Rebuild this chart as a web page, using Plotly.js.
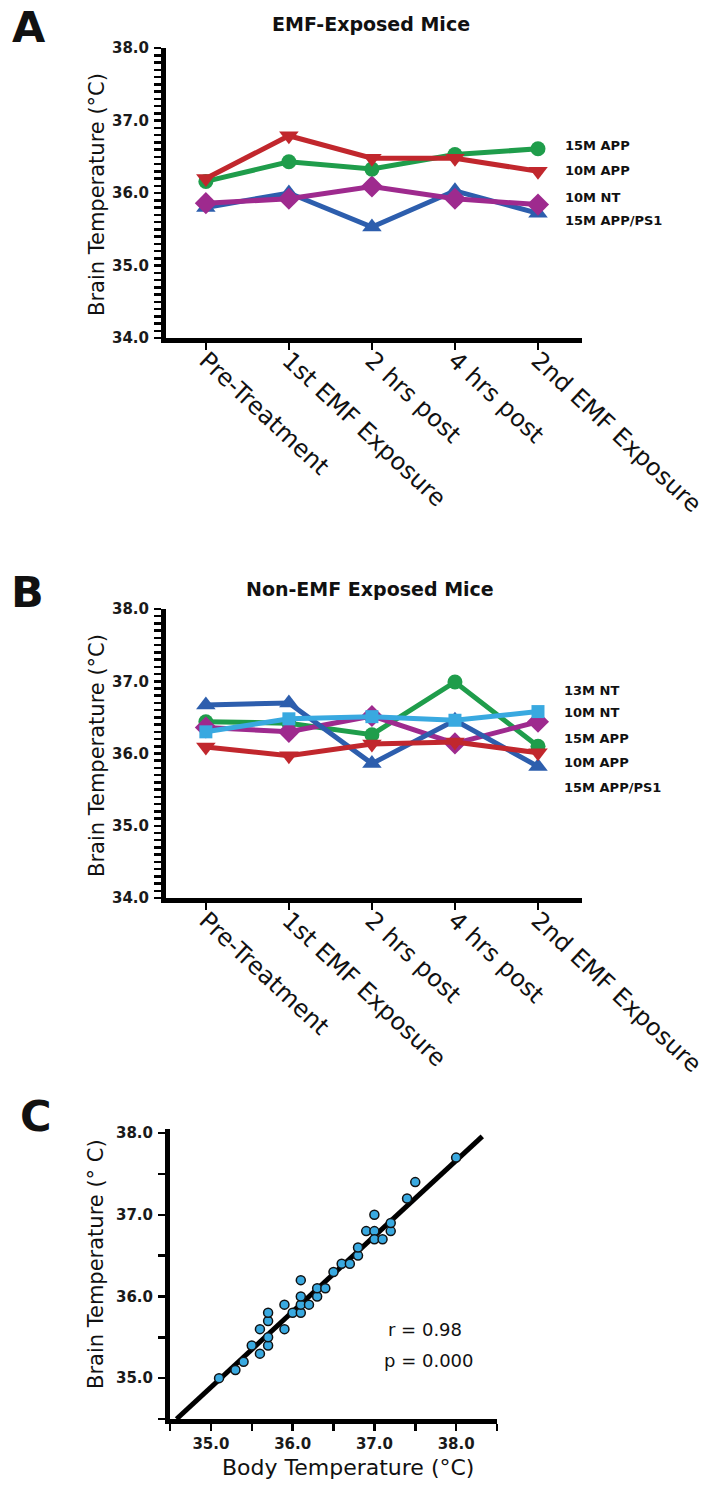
<!DOCTYPE html>
<html>
<head>
<meta charset="utf-8">
<script src="https://cdn.plot.ly/plotly-3.0.1.min.js"></script>
<style>html,body{margin:0;padding:0;background:#fff;}#chart{width:709px;height:1485px;}</style>
</head>
<body>
<div id="chart"></div>
<script>
// ---------- DATA ----------
var categories = ['Pre-Treatment', '1st EMF Exposure', '2 hrs post', '4 hrs post', '2nd EMF Exposure'];

// Panel A: EMF-Exposed Mice
var a15mAPP    = [36.16, 36.43, 36.33, 36.53, 36.61];
var a10mAPP    = [36.20, 36.79, 36.48, 36.48, 36.30];
var a10mNT     = [35.86, 35.92, 36.09, 35.92, 35.84];
var a15mAPPPS1 = [35.80, 36.00, 35.53, 36.03, 35.72];
var aLabels = ['15M APP', '10M APP', '10M NT', '15M APP/PS1'];

// Panel B: Non-EMF Exposed Mice
var b13mNT     = [36.30, 36.48, 36.51, 36.46, 36.58];
var b10mNT     = [36.36, 36.30, 36.52, 36.14, 36.44];
var b15mAPP    = [36.44, 36.42, 36.26, 36.99, 36.10];
var b10mAPP    = [36.09, 35.97, 36.13, 36.16, 36.01];
var b15mAPPPS1 = [36.67, 36.70, 35.86, 36.46, 35.82];
var bLabels = ['13M NT', '10M NT', '15M APP', '10M APP', '15M APP/PS1'];

// Panel C: brain vs body temperature
var bodyTemp  = [35.1,35.3,35.4,35.5,35.6,35.6,35.7,35.7,35.7,35.7,35.9,35.9,36.0,36.1,36.1,36.1,36.1,36.2,36.3,36.3,36.4,36.5,36.6,36.7,36.8,36.8,36.9,37.0,37.0,37.0,37.1,37.2,37.2,37.4,37.5,38.0];
var brainTemp = [35.0,35.1,35.2,35.4,35.3,35.6,35.4,35.5,35.7,35.8,35.6,35.9,35.8,35.8,35.9,36.0,36.2,35.9,36.0,36.1,36.1,36.3,36.4,36.4,36.5,36.6,36.8,36.8,36.7,37.0,36.7,36.8,36.9,37.2,37.4,37.7];
var fitX = [34.58, 38.32];
var fitY = [34.50, 37.96];
var statsText = ['r = 0.98', 'p = 0.000'];

var tempTicks = [34, 35, 36, 37, 38];
var tempTickText = ['34.0', '35.0', '36.0', '37.0', '38.0'];
var cTicks = [35, 36, 37, 38];
var cTickText = ['35.0', '36.0', '37.0', '38.0'];

// ---------- STYLE ----------
var W = 709, H = 1485;
var FONT = 'DejaVu Sans';
var RED = '#C1272D', GREEN = '#1F9D4B', MAG = '#9E2A8E', BLUE = '#2D5EAD', LBLUE = '#39A9E0';

function px(x) { return x / W; }
function py(y) { return 1 - y / H; }

function series(xa, ya, y, color, symbol, size) {
  return {
    type: 'scatter', mode: 'lines+markers', x: categories, y: y,
    xaxis: xa, yaxis: ya, cliponaxis: false,
    line: {color: color, width: 5},
    marker: {color: color, symbol: symbol, size: size, line: {width: 0}},
    hoverinfo: 'skip'
  };
}

var traces = [
  series('x', 'y', a15mAPPPS1, BLUE, 'triangle-up', 17),
  series('x', 'y', a10mNT, MAG, 'diamond', 17),
  series('x', 'y', a15mAPP, GREEN, 'circle', 15),
  series('x', 'y', a10mAPP, RED, 'triangle-down', 17),

  series('x2', 'y2', b15mAPP, GREEN, 'circle', 15),
  series('x2', 'y2', b10mNT, MAG, 'diamond', 17),
  series('x2', 'y2', b15mAPPPS1, BLUE, 'triangle-up', 17),
  series('x2', 'y2', b13mNT, LBLUE, 'square', 13),
  series('x2', 'y2', b10mAPP, RED, 'triangle-down', 17),

  {type: 'scatter', mode: 'lines', x: fitX, y: fitY, xaxis: 'x3', yaxis: 'y3',
   line: {color: '#000', width: 5}, hoverinfo: 'skip'},
  {type: 'scatter', mode: 'markers', x: bodyTemp, y: brainTemp, xaxis: 'x3', yaxis: 'y3',
   marker: {color: LBLUE, size: 9, line: {color: '#111', width: 1.5}}, hoverinfo: 'skip', cliponaxis: false}
];

var tickFont = {family: FONT, size: 15, color: '#1a1a1a', weight: 'bold'};
function baseAxis(extra) {
  var o = {showline: true, linewidth: 5, linecolor: '#000', ticks: 'outside', ticklen: 7,
    tickwidth: 2.5, tickcolor: '#000', showgrid: false, zeroline: false, fixedrange: true,
    tickfont: tickFont};
  for (var k in extra) o[k] = extra[k];
  return o;
}

var catAxis = {type: 'category', range: [-0.48, 4.53], tickangle: 43, ticklabelstandoff: -13,
  tickfont: {family: FONT, size: 24, color: '#111'}};
var tempAxis = {range: [34, 38], tickvals: tempTicks, ticktext: tempTickText, ticklabelstandoff: 2,
  minor: {dtick: 0.1, ticks: 'outside', ticklen: 7, tickwidth: 2.5, tickcolor: '#000'}};

var layout = {
  width: W, height: H, margin: {l: 0, r: 0, t: 0, b: 0},
  paper_bgcolor: '#fff', plot_bgcolor: '#fff', showlegend: false,
  font: {family: FONT, color: '#111'},
  xaxis: baseAxis(Object.assign({domain: [px(166), px(582)], anchor: 'y'}, catAxis)),
  yaxis: baseAxis(Object.assign({domain: [py(338), py(48)], anchor: 'x'}, tempAxis)),
  xaxis2: baseAxis(Object.assign({domain: [px(166), px(582)], anchor: 'y2'}, catAxis)),
  yaxis2: baseAxis(Object.assign({domain: [py(898), py(609)], anchor: 'x2'}, tempAxis)),
  xaxis3: baseAxis({domain: [px(170), px(497)], anchor: 'y3', range: [34.5, 38.5],
    tickvals: cTicks, ticktext: cTickText,
    minor: {dtick: 0.5, ticks: 'outside', ticklen: 7, tickwidth: 2.5, tickcolor: '#000'}}),
  yaxis3: baseAxis({domain: [py(1419), py(1129)], anchor: 'x3', range: [34.5, 38.05],
    tickvals: cTicks, ticktext: cTickText, ticklabelstandoff: 2,
    minor: {dtick: 0.5, ticks: 'outside', ticklen: 7, tickwidth: 2.5, tickcolor: '#000'}}),
  annotations: []
};

function note(text, x, y, size, bold, opts) {
  var a = {text: text, xref: 'paper', yref: 'paper', x: px(x), y: py(y), showarrow: false,
    xanchor: 'center', yanchor: 'middle',
    font: {family: FONT, size: size, color: '#111', weight: bold ? 'bold' : 'normal'}};
  for (var k in (opts || {})) a[k] = opts[k];
  layout.annotations.push(a);
}

// panel letters and titles
note('A', 10, 27, 43, true, {xanchor: 'left'});
note('B', 9, 592, 43, true, {xanchor: 'left'});
note('C', 18, 1116, 43, true, {xanchor: 'left'});
note('EMF-Exposed Mice', 371, 24, 19, true);
note('Non-EMF Exposed Mice', 370, 589, 19, true);

// y-axis titles
note('Brain Temperature (°C)', 97, 195, 21, false, {textangle: -90});
note('Brain Temperature (°C)', 97, 756, 21, false, {textangle: -90});
note('Brain Temperature (° C)', 96, 1264, 21, false, {textangle: -90});
note('Body Temperature (°C)', 348, 1467, 22, false);

// series labels at right
var aLabelY = [145, 170, 197, 220];
aLabels.forEach(function (t, i) { note(t, 563, aLabelY[i], 13, true, {xanchor: 'left'}); });
var bLabelY = [690, 712, 738, 762, 787];
bLabels.forEach(function (t, i) { note(t, 562, bLabelY[i], 13, true, {xanchor: 'left'}); });

// stats
note(statsText[0], 425, 1329, 18, false);
note(statsText[1], 429, 1360, 18, false);

Plotly.newPlot('chart', traces, layout, {displayModeBar: false, staticPlot: true});
</script>
</body>
</html>
